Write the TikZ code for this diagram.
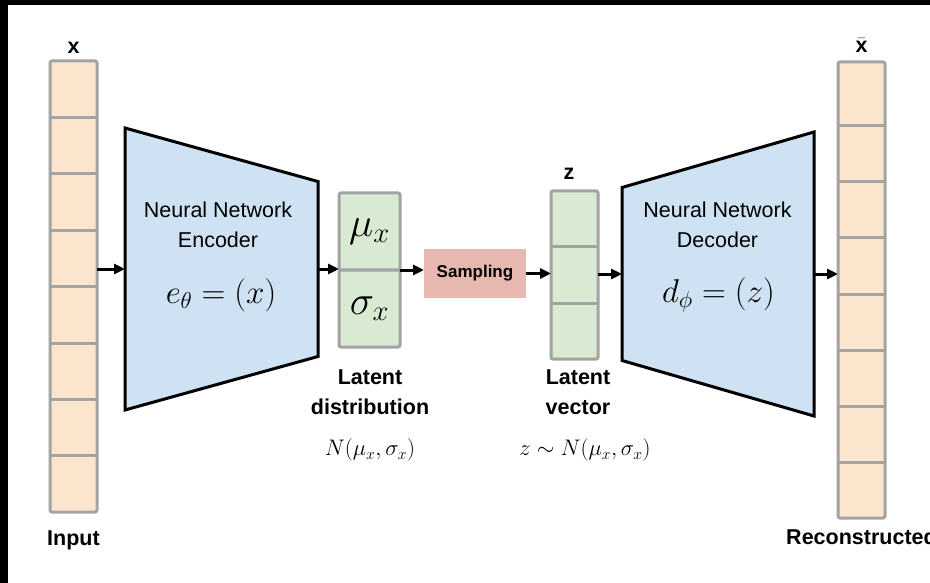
\RequirePackage{fix-cm}
\documentclass[tikz,border=0pt]{standalone}
\usepackage{amsmath}
\usepackage{fontspec}
\setmainfont{Liberation Sans}
\usepackage{tikz}
\usetikzlibrary{arrows.meta, positioning, calc}
\definecolor{cellorange}{HTML}{FCE5CD}
\definecolor{cellgreen}{HTML}{D9EAD3}
\definecolor{netblue}{HTML}{CFE2F3}
\definecolor{samplered}{HTML}{E6B8AF}
\definecolor{cellborder}{HTML}{A3A3A3}
\newcommand{\netfont}{\fontsize{21.5}{30}\selectfont}

\begin{document}
\begin{tikzpicture}[x=1pt, y=-1pt,
  vecstack/.style={draw=cellborder, line width=3pt, rounded corners=2pt, fill=cellorange,
    minimum width=47pt, inner sep=0pt, outer sep=0pt},
  latentcell/.style={vecstack, fill=cellgreen, minimum width=61pt, minimum height=77pt,
    font=\fontsize{41}{48}\selectfont},
  celldiv/.style={draw=cellborder, line width=3pt},
  netshape/.style={inner sep=0pt, outer sep=0pt},
  netborder/.style={draw=black, line width=3pt, fill=netblue},
  samplebox/.style={fill=samplered, minimum width=102pt, minimum height=49pt, inner sep=0pt,
    outer sep=0pt, font=\fontsize{17}{20}\selectfont\bfseries},
  flowarrow/.style={-{Triangle[length=11pt,width=10pt]}, line width=3pt},
  nettext/.style={font=\netfont, align=center},
  boldtag/.style={font=\netfont\bfseries, align=center},
  mathtag/.style={font=\fontsize{22.5}{27}\selectfont},
  netformula/.style={font=\fontsize{33}{40}\selectfont}]
  \useasboundingbox (0,0) rectangle (930,583);
  \clip (0,0) rectangle (930,583);
  \fill[white] (0,0) rectangle (930,583);
  \fill[black] (0,0) rectangle (930,5);
  \fill[black] (0,0) rectangle (7.5,583);

  % encoder and decoder
  \node[netshape, minimum width=193pt, minimum height=282pt] (enc) at (221.5,269) {};
  \filldraw[netborder] (enc.north west) -- ($(enc.east)+(0,-87.5)$)
    -- ($(enc.east)+(0,87.5)$) -- (enc.south west) -- cycle;
  \node[netshape, minimum width=192pt, minimum height=284pt] (dec) at (718,274) {};
  \filldraw[netborder] ($(dec.west)+(0,-86.5)$) -- (dec.north east)
    -- (dec.south east) -- ($(dec.west)+(0,86.5)$) -- cycle;
  \node[nettext] at (218,225) {Neural Network\\Encoder};
  \node[netformula] at (221,295) {$e_\theta = (x)$};
  \node[nettext] at (717.5,225) {Neural Network\\Decoder};
  \node[netformula] at (718.5,295) {$d_\phi = (z)$};

  % input and output vectors
  \node[vecstack, minimum height=451pt] (xin) at (73.5,286.5) {};
  \foreach \n in {1,...,7}
    \draw[celldiv] (xin.north west) ++(0,\n*56.4) -- ++(47,0);
  \node[vecstack, minimum height=456pt] (xout) at (861.5,290) {};
  \foreach \n in {0,...,6}
    \draw[celldiv] (xout.north west) ++(0,64+\n*56) -- ++(47,0);

  % latent distribution, sampling, latent vector
  \node[latentcell] (mu) at (369.5,231.5) {$\mu_x$};
  \node[latentcell, below=0pt of mu] (sigma) {$\sigma_x$};
  \node[samplebox] (samp) at (475,273.5) {Sampling};
  \node[vecstack, fill=cellgreen, minimum height=168pt] (zv) at (574.5,275) {};
  \foreach \n in {1,2}
    \draw[celldiv] (zv.north west) ++(0,\n*56) -- ++(47,0);

  % arrows
  \draw[flowarrow] (xin.east |- enc.west) -- (enc.west);
  \draw[flowarrow] (enc.east) -- (enc.east -| mu.west);
  \draw[flowarrow] (mu.south east) -- (mu.south east -| samp.west);
  \draw[flowarrow] (samp.east) -- (samp.east -| zv.west);
  \draw[flowarrow] (zv.east |- dec.west) -- (dec.west);
  \draw[flowarrow] (dec.east) -- (dec.east -| xout.west);

  % labels
  \node[boldtag, anchor=base] at (73.5,54) {x};
  \node[boldtag, anchor=base] at (861.5,53) {$\bar{\textbf{x}}$};
  \node[boldtag, anchor=base] at (569,180) {z};
  \node[boldtag, anchor=base] at (73.5,545) {Input};
  \node[boldtag, anchor=base] at (861.5,544) {Reconstructed};
  \node[boldtag] at (370,392) {Latent\\distribution};
  \node[boldtag] at (578,392) {Latent\\vector};
  \node[mathtag] at (370,450) {$N(\mu_x, \sigma_x)$};
  \node[mathtag] at (585,450) {$z \sim N(\mu_x, \sigma_x)$};
\end{tikzpicture}
\end{document}
